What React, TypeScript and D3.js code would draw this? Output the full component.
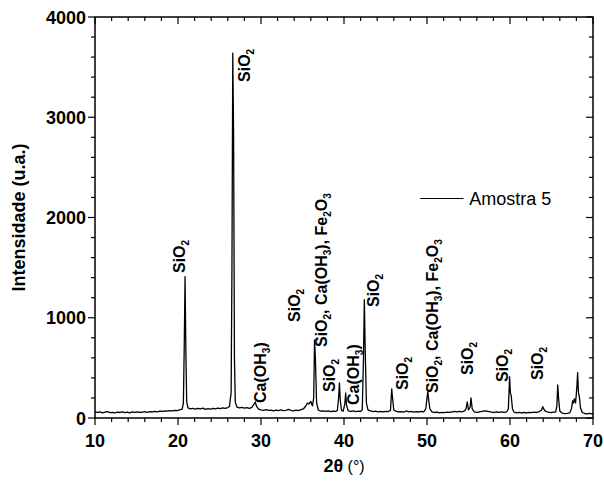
import React from "react";
import * as d3 from "d3";

// XRD pattern of "Amostra 5": [2theta (deg), intensity (u.a.)]
const lowAngle: [number, number][] = [
  [10.0, 62], [10.3, 55], [10.6, 60], [10.9, 52], [11.2, 58], [11.5, 63], [11.8, 54], [12.1, 57],
  [12.4, 50], [12.7, 59], [13.0, 55], [13.3, 61], [13.6, 53], [13.9, 58], [14.2, 52], [14.5, 60],
  [14.8, 56], [15.1, 62], [15.4, 55], [15.7, 59], [16.0, 63], [16.3, 57], [16.6, 64], [16.9, 60],
  [17.2, 66], [17.5, 62], [17.8, 69], [18.1, 65], [18.4, 72], [18.7, 68], [19.0, 74], [19.3, 70],
  [19.6, 76], [19.9, 73], [20.2, 80], [20.5, 88], [20.65, 150], [20.75, 700], [20.85, 1410],
  [20.95, 650], [21.05, 160], [21.2, 100], [21.5, 92], [21.8, 97], [22.1, 88], [22.4, 95],
  [22.7, 90], [23.0, 98], [23.3, 86], [23.6, 93], [23.9, 89], [24.2, 96], [24.5, 91], [24.8, 99],
  [25.1, 93], [25.4, 101], [25.7, 96], [26.0, 104], [26.2, 115], [26.4, 250], [26.5, 1500],
  [26.6, 3640], [26.7, 2800], [26.8, 600], [26.9, 160], [27.1, 108], [27.4, 100], [27.7, 106],
  [28.0, 98], [28.3, 103], [28.6, 95], [28.9, 105], [29.1, 130], [29.3, 160], [29.45, 120],
  [29.7, 88], [30.0, 80], [30.3, 76], [30.6, 83], [30.9, 75], [31.2, 79], [31.5, 72], [31.8, 78],
  [32.1, 74], [32.4, 80], [32.7, 73], [33.0, 77], [33.3, 85], [33.6, 76], [33.9, 72], [34.2, 78],
  [34.5, 74], [34.8, 83], [35.1, 90], [35.4, 120], [35.6, 150], [35.8, 140], [36.0, 165],
  [36.2, 120], [36.35, 200], [36.45, 780], [36.55, 600], [36.7, 150], [36.9, 80],
];

const midAngle: [number, number][] = [
  [37.2, 68], [37.5, 72], [37.8, 65], [38.1, 70], [38.4, 63], [38.7, 68], [39.0, 66], [39.2, 75],
  [39.35, 200], [39.45, 350], [39.55, 180], [39.7, 75], [39.9, 68], [40.1, 140], [40.2, 250],
  [40.3, 130], [40.5, 72], [40.8, 65], [41.1, 70], [41.4, 64], [41.7, 69], [42.0, 66], [42.2, 80],
  [42.35, 600], [42.45, 1180], [42.55, 700], [42.7, 150], [42.9, 78], [43.2, 70], [43.5, 64],
  [43.8, 69], [44.1, 62], [44.4, 67], [44.7, 60], [45.0, 66], [45.3, 63], [45.6, 75], [45.75, 290],
  [45.85, 200], [46.0, 80], [46.3, 66], [46.6, 60], [46.9, 64], [47.2, 58], [47.5, 70], [47.8, 62],
  [48.1, 66], [48.4, 58], [48.7, 63], [49.0, 60], [49.3, 65], [49.6, 62], [49.85, 90], [50.0, 200],
  [50.1, 263], [50.2, 180], [50.35, 90], [50.6, 62], [50.9, 55], [51.2, 58], [51.5, 52], [51.8, 57],
  [52.1, 53], [52.4, 59], [52.7, 56], [53.0, 62], [53.3, 65], [53.6, 60], [53.9, 66], [54.2, 62],
];

const highAngle: [number, number][] = [
  [54.5, 70], [54.7, 90], [54.85, 160], [55.0, 80], [55.2, 110], [55.3, 200], [55.45, 90],
  [55.7, 62], [56.0, 56], [56.3, 60], [56.6, 65], [56.9, 72], [57.2, 68], [57.5, 63], [57.8, 58],
  [58.1, 55], [58.4, 60], [58.7, 56], [59.0, 61], [59.3, 57], [59.6, 62], [59.8, 90], [59.9, 300],
  [59.95, 412], [60.05, 250], [60.15, 220], [60.3, 90], [60.5, 58], [60.8, 52], [61.1, 56],
  [61.4, 50], [61.7, 55], [62.0, 51], [62.3, 57], [62.6, 53], [62.9, 58], [63.2, 55], [63.5, 62],
  [63.8, 80], [63.95, 113], [64.1, 85], [64.3, 65], [64.6, 58], [64.9, 54], [65.2, 58], [65.5, 60],
  [65.65, 120], [65.75, 330], [65.85, 200], [66.0, 70], [66.3, 48], [66.6, 44], [66.9, 47],
  [67.2, 52], [67.4, 90], [67.55, 170], [67.65, 150], [67.75, 190], [67.9, 150], [68.05, 300],
  [68.15, 452], [68.25, 250], [68.35, 215], [68.5, 100], [68.7, 55], [69.0, 45], [69.3, 42],
  [69.6, 46], [69.9, 40], [70.0, 43],
];

// peak assignments: 2theta of the label baseline, intensity where the text starts
const labelAngles = [20.84, 28.67, 30.6, 34.7, 37.95, 38.9, 41.8, 44.2, 47.7, 51.3, 55.5, 59.76, 63.98];
const labelLevels = [1446, 3352, 150, 958, 708, 259, 130, 1107, 279, 249, 429, 359, 379];
const labelTexts = [
  "SiO_2", "SiO_2", "Ca(OH_3)", "SiO_2", "SiO_2, Ca(OH_3), Fe_2O_3", "SiO_2", "Ca(OH_3)",
  "SiO_2", "SiO_2", "SiO_2, Ca(OH_3), Fe_2O_3", "SiO_2", "SiO_2", "SiO_2",
];

const xTicks = [10, 20, 30, 40, 50, 60, 70];
const yTicks = [0, 1000, 2000, 3000, 4000];
const seriesName = "Amostra 5";

const W = 604, H = 482;
const m = { left: 95, right: 11, top: 17, bottom: 64 };
const FONT = "'Liberation Sans', Arial, Helvetica, sans-serif";

// "SiO_2" -> [["SiO", false], ["2", true]]
function chemParts(s: string): [string, boolean][] {
  return s.split(/(_\d)/).filter(p => p.length).map(p => p.startsWith("_") ? [p.slice(1), true] : [p, false]);
}

export default function App() {
  const data = [...lowAngle, ...midAngle, ...highAngle];
  const x = d3.scaleLinear().domain([10, 70]).range([m.left, W - m.right]);
  const y = d3.scaleLinear().domain([0, 4000]).range([H - m.bottom, m.top]);
  const line = d3.line<[number, number]>().x(d => x(d[0])).y(d => y(d[1]));

  const x0 = x.range()[0], x1 = x.range()[1];
  const y0 = y.range()[0], y1 = y.range()[1];
  const xMinor = d3.range(10, 70.001, 2);
  const yMinor = d3.range(0, 4000.001, 200);

  return (
    <svg width={W} height={H} style={{ position: "absolute", left: 0, top: 0, background: "#fff" }}
      fontFamily={FONT}>
      {/* ticks: outside on left/bottom, inside on top/right */}
      <g stroke="#000" strokeWidth={1.2}>
        {xMinor.map(v => {
          const len = v % 10 === 0 ? 7 : 4;
          return (
            <g key={"xt" + v}>
              <line x1={x(v)} x2={x(v)} y1={y0} y2={y0 + len} />
              <line x1={x(v)} x2={x(v)} y1={y1} y2={y1 + len} />
            </g>
          );
        })}
        {yMinor.map(v => {
          const len = v % 1000 === 0 ? 7 : 4;
          return (
            <g key={"yt" + v}>
              <line x1={x0 - len} x2={x0} y1={y(v)} y2={y(v)} />
              <line x1={x1 - len} x2={x1} y1={y(v)} y2={y(v)} />
            </g>
          );
        })}
      </g>

      <path d={line(data) ?? ""} fill="none" stroke="#000" strokeWidth={1.3} strokeLinejoin="round" />

      <rect x={x0} y={y1} width={x1 - x0} height={y0 - y1} fill="none" stroke="#000" strokeWidth={1.5} />

      <g fontSize={18} fontWeight="bold" fill="#000">
        {xTicks.map(v => (
          <text key={"xl" + v} x={x(v)} y={y0 + 29} textAnchor="middle">{v}</text>
        ))}
        {yTicks.map(v => (
          <text key={"yl" + v} x={x0 - 9} y={y(v) + 6.5} textAnchor="end">{v}</text>
        ))}
      </g>

      <text transform={`translate(25,${(y0 + y1) / 2}) rotate(-90)`} textAnchor="middle"
        fontSize={18} fontWeight="bold">Intensidade (u.a.)</text>
      <text x={(x0 + x1) / 2} y={y0 + 54} textAnchor="middle" fontSize={18}>
        <tspan fontWeight="bold">2θ</tspan><tspan fontSize={16}> (°)</tspan>
      </text>

      {/* peak labels */}
      <g fontSize={16} fontWeight="bold">
        {labelTexts.map((t, i) => {
          let shift = 0;
          return (
            <text key={"pl" + i} transform={`translate(${x(labelAngles[i])},${y(labelLevels[i])}) rotate(-90)`}>
              {chemParts(t).map(([s, sub], j) => {
                const dy = sub ? 4 - shift : -shift;
                shift = sub ? 4 : 0;
                return <tspan key={j} dy={dy} fontSize={sub ? 10 : 16}>{s}</tspan>;
              })}
            </text>
          );
        })}
      </g>

      {/* legend */}
      <line x1={x(49.2)} x2={x(54.4)} y1={y(2190)} y2={y(2190)} stroke="#000" strokeWidth={1.1} />
      <text x={x(55.1)} y={y(2190) + 6.5} fontSize={18}>{seriesName}</text>
    </svg>
  );
}
